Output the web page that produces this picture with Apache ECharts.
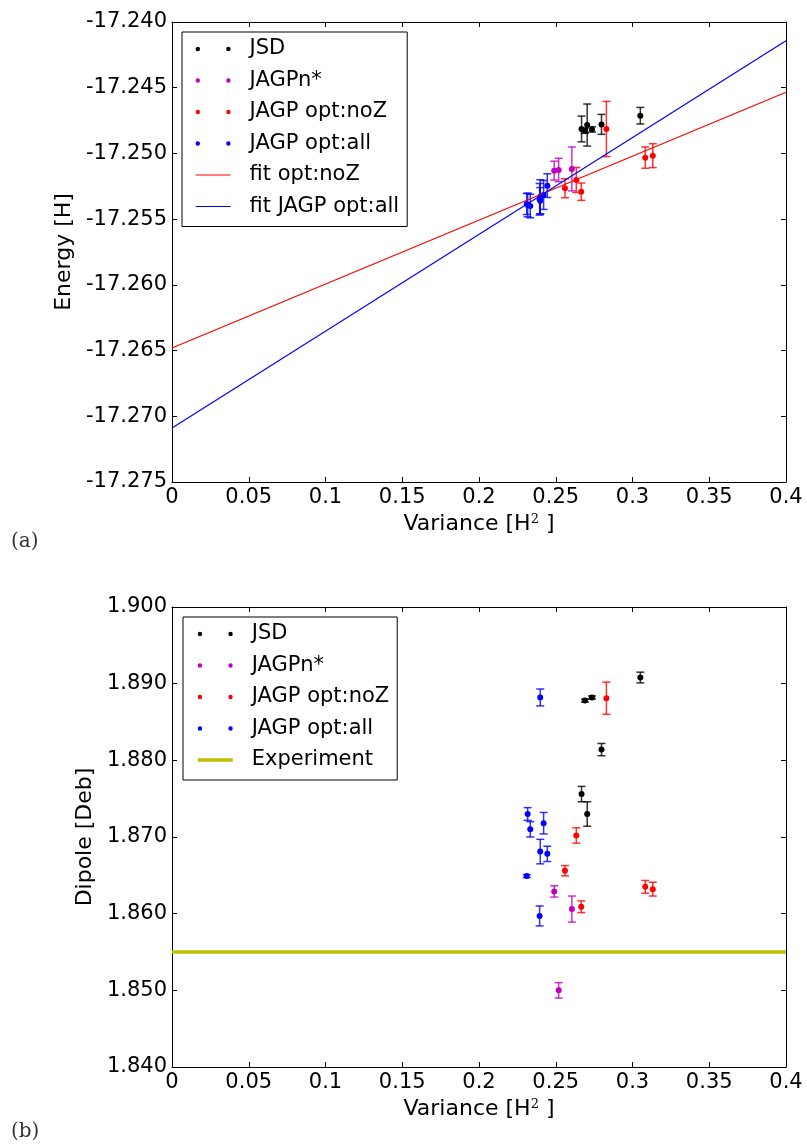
<!DOCTYPE html>
<html>
<head>
<meta charset="utf-8">
<script src="https://cdn.jsdelivr.net/npm/echarts@6/dist/echarts.min.js"></script>
<style>
  html, body { margin: 0; padding: 0; background: #ffffff; }
  #chart { width: 807px; height: 1144px; }
</style>
</head>
<body>
<div id="chart"></div>
<script>
// ---- Measurements: variance [H^2], energy [H], dipole [Deb] with error bars ----
const jsdVar        = [0.2668, 0.2690, 0.2705, 0.2736, 0.2798, 0.3051];
const jsdEnergy     = [-17.24814, -17.24827, -17.24784, -17.24817, -17.24779, -17.24713];
const jsdEnergyErr  = [0.00098, 0.0002, 0.0016, 0.0002, 0.00076, 0.00063];
const jsdDipole     = [1.8756, 1.8878, 1.8730, 1.8882, 1.8814, 1.8908];
const jsdDipoleErr  = [0.0010, 0.0002, 0.0016, 0.0002, 0.0008, 0.0007];

const ngpVar        = [0.2490, 0.2519, 0.2605];
const ngpEnergy     = [-17.25131, -17.25126, -17.25118];
const ngpEnergyErr  = [0.00072, 0.00089, 0.00167];
const ngpDipole     = [1.8629, 1.8500, 1.8606];
const ngpDipoleErr  = [0.00074, 0.0010, 0.0017];

const noZVar        = [0.2560, 0.2634, 0.2666, 0.2830, 0.3083, 0.3132];
const noZEnergy     = [-17.25265, -17.25202, -17.25291, -17.24814, -17.25032, -17.25017];
const noZEnergyErr  = [0.00072, 0.00095, 0.00066, 0.0021, 0.00081, 0.00091];
const noZDipole     = [1.8656, 1.8702, 1.8609, 1.8881, 1.8635, 1.8632];
const noZDipoleErr  = [0.00067, 0.0010, 0.00076, 0.0021, 0.00083, 0.0009];

const allVar        = [0.2311, 0.2317, 0.2334, 0.2395, 0.2399, 0.2399, 0.2421, 0.2445];
const allEnergy     = [-17.25385, -17.25392, -17.25400, -17.25349, -17.25330, -17.25360, -17.25316, -17.25245];
const allEnergyErr  = [0.0008, 0.0009, 0.0009, 0.0012, 0.0013, 0.0010, 0.0011, 0.0009];
const allDipole     = [1.8649, 1.8730, 1.8710, 1.8597, 1.8681, 1.8882, 1.8718, 1.8678];
const allDipoleErr  = [0.0002, 0.00083, 0.0010, 0.0013, 0.0016, 0.0011, 0.0014, 0.0010];

// Linear fits, evaluated at both ends of the variance axis
const fitVarEnds      = [0, 0.4];
const fitNoZEnergy    = [-17.2648, -17.24535];
const fitAllEnergy    = [-17.2709, -17.24142];
const experimentDipole = 1.855;

// Axis ranges and tick labels
const varianceTicks = ['0', '0.05', '0.1', '0.15', '0.2', '0.25', '0.3', '0.35', '0.4'];
const energyTicks   = ['-17.275', '-17.270', '-17.265', '-17.260', '-17.255', '-17.250', '-17.245', '-17.240'];
const dipoleTicks   = ['1.840', '1.850', '1.860', '1.870', '1.880', '1.890', '1.900'];

const FONT = 'DejaVu Sans';
const TICK_SIZE = 21;
const TITLE_SIZE = 22;
const COLORS = { jsd: '#000000', ngp: '#bf00bf', noZ: '#ff0000', all: '#0000ff', exp: '#bfbf00' };

const zip2 = (a, b) => a.map((v, i) => [v, b[i]]);
const zip3 = (a, b, c) => a.map((v, i) => [v, b[i], c[i]]);

const tickStep = (labels) => +(parseFloat(labels[1]) - parseFloat(labels[0])).toFixed(6);

function xAxisDef(gridIndex, position, withLabels) {
  return {
    type: 'value', gridIndex, position,
    min: parseFloat(varianceTicks[0]),
    max: parseFloat(varianceTicks[varianceTicks.length - 1]),
    interval: tickStep(varianceTicks),
    axisLine: { show: true, onZero: false, lineStyle: { color: '#000', width: 1 } },
    axisTick: { show: true, inside: true, length: 5, lineStyle: { color: '#000' } },
    axisLabel: {
      show: withLabels, margin: 5, color: '#000', fontFamily: FONT, fontSize: TICK_SIZE,
      formatter: v => String(+v.toFixed(2))
    },
    splitLine: { show: false },
    name: withLabels ? 'Variance [H{s|2} ]' : '',
    nameLocation: 'middle', nameGap: 31,
    nameTextStyle: {
      color: '#000', fontFamily: FONT, fontSize: TITLE_SIZE,
      rich: { s: { fontFamily: 'DejaVu Serif', fontSize: 13, verticalAlign: 'top', lineHeight: 13 } }
    }
  };
}

function yAxisDef(gridIndex, position, ticks, withLabels, title, gap) {
  return {
    type: 'value', gridIndex, position,
    min: parseFloat(ticks[0]),
    max: parseFloat(ticks[ticks.length - 1]),
    interval: tickStep(ticks),
    axisLine: { show: true, onZero: false, lineStyle: { color: '#000', width: 1 } },
    axisTick: { show: true, inside: true, length: 5, lineStyle: { color: '#000' } },
    axisLabel: {
      show: withLabels, margin: 5, color: '#000', fontFamily: FONT, fontSize: TICK_SIZE,
      formatter: v => v.toFixed(3)
    },
    splitLine: { show: false },
    name: withLabels ? title : '',
    nameLocation: 'middle', nameGap: gap, nameRotate: 90,
    nameTextStyle: { color: '#000', fontFamily: FONT, fontSize: TITLE_SIZE }
  };
}

function scatter(name, color, data, axis) {
  return {
    type: 'scatter', name, data,
    xAxisIndex: axis, yAxisIndex: axis,
    symbol: 'circle', symbolSize: 6, z: 4,
    itemStyle: { color, opacity: 1 },
    emphasis: { disabled: true }
  };
}

function errorBars(name, color, data, axis) {
  return {
    type: 'custom', name, data,
    xAxisIndex: axis, yAxisIndex: axis, z: 3, silent: true,
    itemStyle: { color },
    encode: { x: 0, y: 1 },
    renderItem(params, api) {
      const x = api.value(0), y = api.value(1), e = api.value(2);
      const hi = api.coord([x, y + e]);
      const lo = api.coord([x, y - e]);
      const hw = 4;
      const style = { stroke: color, lineWidth: 1.5, opacity: 0.8 };
      return {
        type: 'group',
        children: [
          { type: 'line', shape: { x1: hi[0], y1: hi[1], x2: lo[0], y2: lo[1] }, style },
          { type: 'line', shape: { x1: hi[0] - hw, y1: hi[1], x2: hi[0] + hw, y2: hi[1] }, style },
          { type: 'line', shape: { x1: lo[0] - hw, y1: lo[1], x2: lo[0] + hw, y2: lo[1] }, style }
        ]
      };
    }
  };
}

function fitLine(name, color, xs, ys, axis, width) {
  return {
    type: 'line', name, data: zip2(xs, ys),
    xAxisIndex: axis, yAxisIndex: axis, z: 5,
    symbol: 'none', smooth: false, silent: true,
    lineStyle: { color, width },
    itemStyle: { color }
  };
}

const DOTS = 'path://M0,2.2a2.2,2.2 0 1,0 4.4,0a2.2,2.2 0 1,0 -4.4,0zM30.6,2.2a2.2,2.2 0 1,0 4.4,0a2.2,2.2 0 1,0 -4.4,0z';

function legendDef(left, top, names) {
  return {
    orient: 'vertical', left, top,
    padding: [6, 8, 9, 13],
    itemWidth: 35, itemHeight: 4.4, itemGap: 9.5,
    borderColor: '#000', borderWidth: 1, borderRadius: 0,
    backgroundColor: '#fff',
    selectedMode: false,
    lineStyle: { width: 'inherit' },
    textStyle: { color: '#000', fontFamily: FONT, fontSize: TICK_SIZE, lineHeight: 22, padding: [0, 0, 0, 14] },
    data: names.map(n => n.dots
      ? { name: n.name, icon: DOTS }
      : { name: n.name, itemStyle: { color: 'rgba(0,0,0,0)', borderWidth: 0, opacity: 0 } })
  };
}

const scatterNames = [
  { name: 'JSD', dots: true },
  { name: 'JAGPn*', dots: true },
  { name: 'JAGP opt:noZ', dots: true },
  { name: 'JAGP opt:all', dots: true }
];

const option = {
  animation: false,
  backgroundColor: '#ffffff',
  textStyle: { fontFamily: FONT },
  grid: [
    { left: 172, top: 22, width: 614, height: 460, containLabel: false },
    { left: 172, top: 607, width: 614, height: 460, containLabel: false }
  ],
  xAxis: [
    xAxisDef(0, 'bottom', true),
    xAxisDef(0, 'top', false),
    xAxisDef(1, 'bottom', true),
    xAxisDef(1, 'top', false)
  ],
  yAxis: [
    yAxisDef(0, 'left', energyTicks, true, 'Energy [H]', 92),
    yAxisDef(0, 'right', energyTicks, false, '', 0),
    yAxisDef(1, 'left', dipoleTicks, true, 'Dipole [Deb]', 65),
    yAxisDef(1, 'right', dipoleTicks, false, '', 0)
  ],
  legend: [
    legendDef(182, 32, scatterNames.concat([{ name: 'fit opt:noZ' }, { name: 'fit JAGP opt:all' }])),
    legendDef(183, 617, scatterNames.concat([{ name: 'Experiment' }]))
  ],
  graphic: [
    { type: 'text', left: 11, top: 532, style: { text: '(a)', fontFamily: 'DejaVu Serif', fontSize: 20, fill: '#333' } },
    { type: 'text', left: 11, top: 1122, style: { text: '(b)', fontFamily: 'DejaVu Serif', fontSize: 20, fill: '#333' } }
  ],
  series: [
    // (a) energy vs variance
    scatter('JSD', COLORS.jsd, zip2(jsdVar, jsdEnergy), 0),
    scatter('JAGPn*', COLORS.ngp, zip2(ngpVar, ngpEnergy), 0),
    scatter('JAGP opt:noZ', COLORS.noZ, zip2(noZVar, noZEnergy), 0),
    scatter('JAGP opt:all', COLORS.all, zip2(allVar, allEnergy), 0),
    errorBars('JSD', COLORS.jsd, zip3(jsdVar, jsdEnergy, jsdEnergyErr), 0),
    errorBars('JAGPn*', COLORS.ngp, zip3(ngpVar, ngpEnergy, ngpEnergyErr), 0),
    errorBars('JAGP opt:noZ', COLORS.noZ, zip3(noZVar, noZEnergy, noZEnergyErr), 0),
    errorBars('JAGP opt:all', COLORS.all, zip3(allVar, allEnergy, allEnergyErr), 0),
    fitLine('fit opt:noZ', COLORS.noZ, fitVarEnds, fitNoZEnergy, 0, 1.2),
    fitLine('fit JAGP opt:all', COLORS.all, fitVarEnds, fitAllEnergy, 0, 1.2),

    // (b) dipole vs variance
    scatter('JSD', COLORS.jsd, zip2(jsdVar, jsdDipole), 2),
    scatter('JAGPn*', COLORS.ngp, zip2(ngpVar, ngpDipole), 2),
    scatter('JAGP opt:noZ', COLORS.noZ, zip2(noZVar, noZDipole), 2),
    scatter('JAGP opt:all', COLORS.all, zip2(allVar, allDipole), 2),
    errorBars('JSD', COLORS.jsd, zip3(jsdVar, jsdDipole, jsdDipoleErr), 2),
    errorBars('JAGPn*', COLORS.ngp, zip3(ngpVar, ngpDipole, ngpDipoleErr), 2),
    errorBars('JAGP opt:noZ', COLORS.noZ, zip3(noZVar, noZDipole, noZDipoleErr), 2),
    errorBars('JAGP opt:all', COLORS.all, zip3(allVar, allDipole, allDipoleErr), 2),
    fitLine('Experiment', COLORS.exp, fitVarEnds, fitVarEnds.map(() => experimentDipole), 2, 3.5)
  ]
};

const chart = echarts.init(document.getElementById('chart'), null, { renderer: 'canvas' });
chart.setOption(option);
</script>
</body>
</html>
